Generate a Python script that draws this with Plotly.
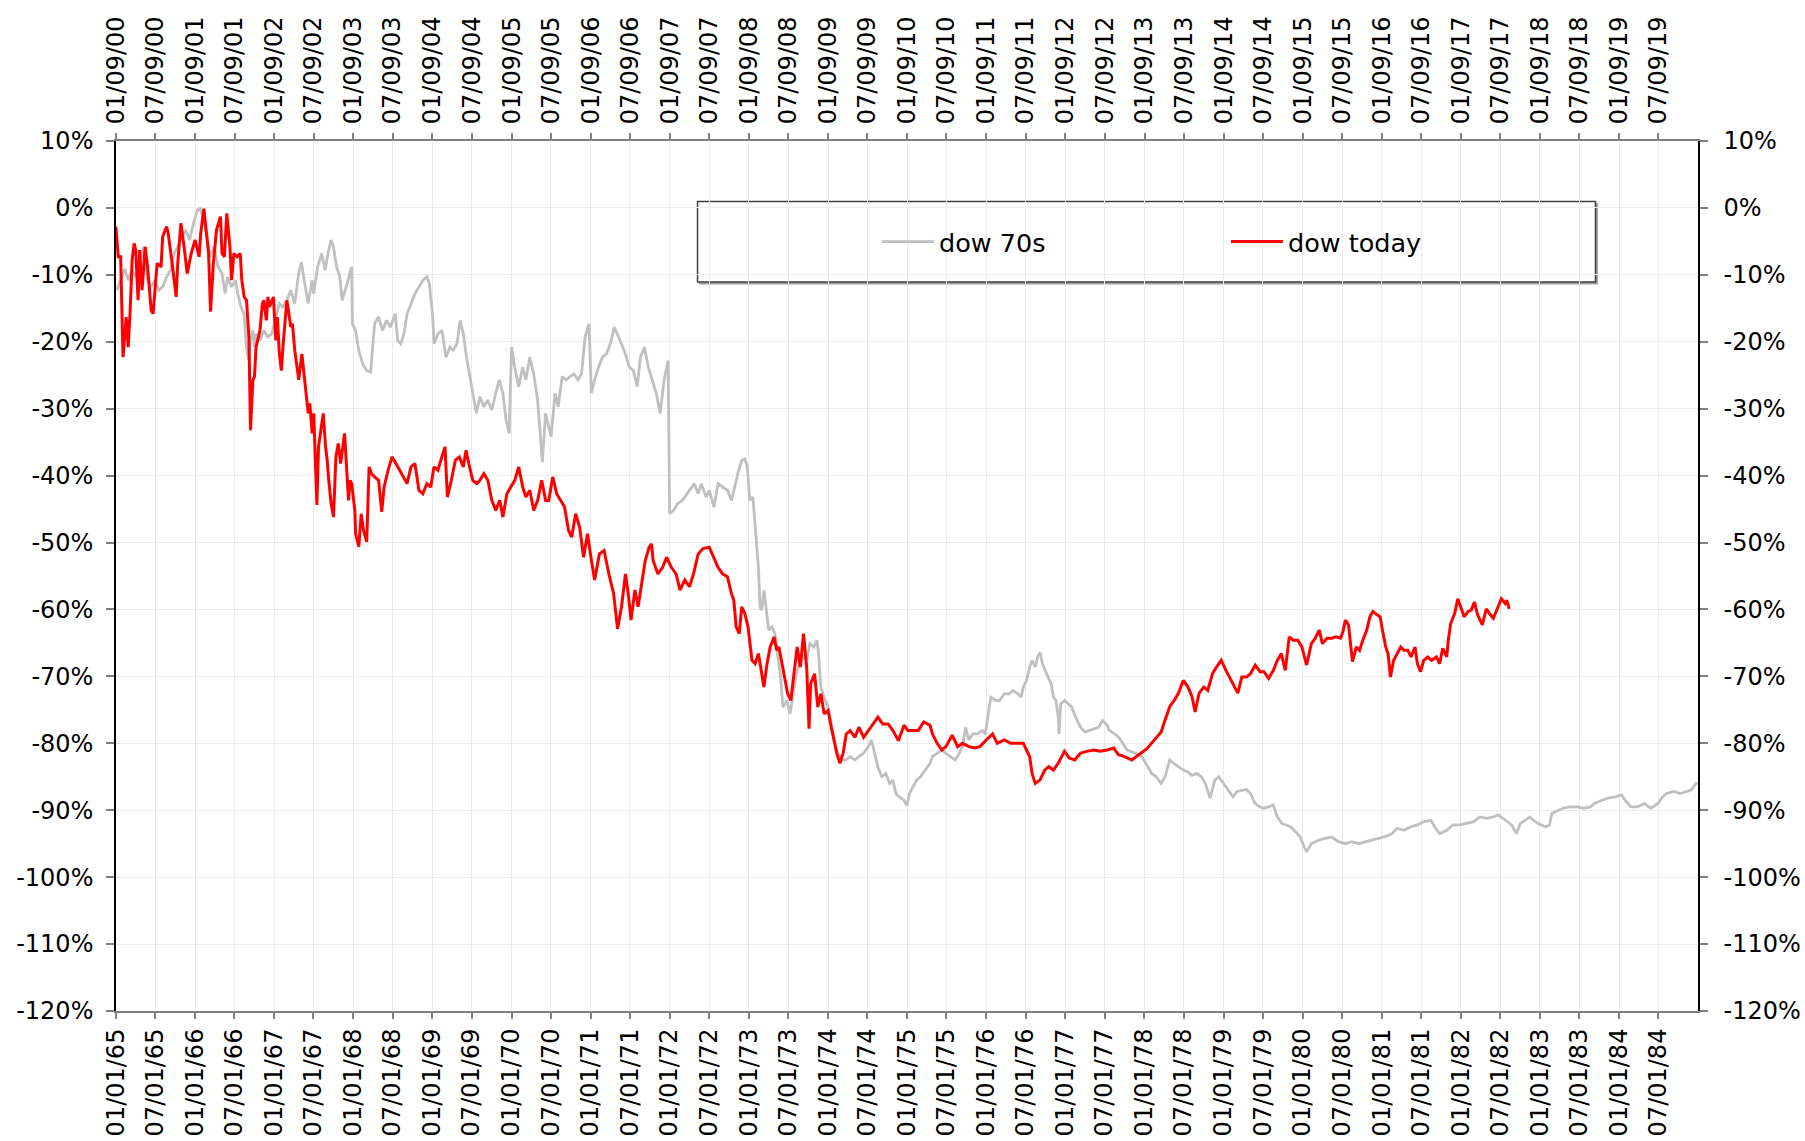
import plotly.graph_objects as go
from datetime import datetime

# ---------------- data ----------------
# "dow 70s": decimal year (bottom axis, 1965-1985) and change from peak, %
gray_year = [
1965.01,1965.06,1965.11,1965.155,1965.20,1965.25,1965.30,1965.35,1965.40,1965.445,1965.49,1965.54,1965.59,1965.64,1965.69,1965.735,
1965.78,1965.83,1965.88,1965.93,1965.98,1966.03,1966.06,1966.10,1966.15,1966.19,1966.24,1966.29,1966.34,1966.38,1966.41,1966.46,
1966.51,1966.54,1966.58,1966.62,1966.65,1966.68,1966.70,1966.73,1966.75,1966.77,1966.82,1966.87,1966.92,1966.97,1967.02,1967.065,
1967.11,1967.16,1967.21,1967.26,1967.31,1967.345,1967.38,1967.43,1967.48,1967.50,1967.55,1967.60,1967.645,1967.68,1967.72,1967.75,
1967.79,1967.83,1967.86,1967.90,1967.935,1967.98,1967.99,1968.03,1968.07,1968.12,1968.17,1968.22,1968.25,1968.27,1968.32,1968.37,
1968.42,1968.47,1968.53,1968.56,1968.60,1968.64,1968.68,1968.73,1968.78,1968.83,1968.88,1968.93,1968.96,1969.00,1969.02,1969.07,
1969.12,1969.17,1969.22,1969.26,1969.31,1969.35,1969.39,1969.43,1969.47,1969.51,1969.555,1969.60,1969.65,1969.70,1969.75,1969.80,
1969.845,1969.89,1969.93,1969.97,1970.00,1970.04,1970.09,1970.14,1970.18,1970.23,1970.28,1970.33,1970.35,1970.39,1970.43,1970.47,
1970.50,1970.55,1970.59,1970.64,1970.69,1970.74,1970.79,1970.84,1970.885,1970.93,1970.98,1971.01,1971.05,1971.10,1971.15,1971.20,
1971.25,1971.30,1971.34,1971.39,1971.44,1971.49,1971.54,1971.59,1971.63,1971.68,1971.73,1971.78,1971.83,1971.88,1971.93,1971.98,
1972.00,1972.05,1972.10,1972.16,1972.22,1972.27,1972.31,1972.36,1972.40,1972.46,1972.50,1972.56,1972.61,1972.67,1972.73,1972.78,
1972.82,1972.87,1972.91,1972.95,1972.98,1973.01,1973.05,1973.09,1973.12,1973.14,1973.16,1973.19,1973.22,1973.25,1973.29,1973.33,
1973.36,1973.40,1973.43,1973.48,1973.52,1973.56,1973.60,1973.64,1973.69,1973.73,1973.77,1973.82,1973.86,1973.88,1973.91,1973.95,
1974.00,1974.05,1974.11,1974.17,1974.22,1974.28,1974.34,1974.39,1974.45,1974.51,1974.55,1974.59,1974.63,1974.68,1974.73,1974.78,
1974.82,1974.86,1974.90,1974.96,1975.00,1975.03,1975.07,1975.12,1975.17,1975.23,1975.29,1975.32,1975.38,1975.44,1975.49,1975.55,
1975.61,1975.66,1975.70,1975.74,1975.78,1975.83,1975.89,1975.95,1975.99,1976.02,1976.06,1976.12,1976.17,1976.23,1976.29,1976.34,
1976.40,1976.44,1976.47,1976.51,1976.55,1976.58,1976.62,1976.65,1976.68,1976.71,1976.74,1976.78,1976.82,1976.85,1976.88,1976.91,
1976.92,1976.94,1976.99,1977.04,1977.08,1977.13,1977.19,1977.25,1977.30,1977.36,1977.42,1977.47,1977.53,1977.55,1977.67,1977.78,
1977.89,1977.97,1978.04,1978.09,1978.15,1978.21,1978.26,1978.32,1978.37,1978.43,1978.49,1978.55,1978.60,1978.66,1978.72,1978.77,
1978.83,1978.89,1978.94,1979.00,1979.06,1979.12,1979.17,1979.23,1979.29,1979.34,1979.40,1979.46,1979.51,1979.57,1979.63,1979.68,
1979.74,1979.79,1979.85,1979.91,1979.97,1980.02,1980.05,1980.11,1980.20,1980.28,1980.37,1980.45,1980.54,1980.62,1980.71,1980.80,
1980.88,1980.96,1981.05,1981.13,1981.19,1981.28,1981.36,1981.45,1981.53,1981.62,1981.67,1981.73,1981.82,1981.90,1981.99,1982.07,
1982.16,1982.24,1982.33,1982.41,1982.47,1982.53,1982.58,1982.64,1982.70,1982.75,1982.81,1982.87,1982.92,1982.98,1983.07,1983.12,
1983.15,1983.21,1983.29,1983.38,1983.47,1983.55,1983.64,1983.69,1983.78,1983.86,1983.95,1984.03,1984.09,1984.15,1984.23,1984.32,
1984.40,1984.49,1984.55,1984.60,1984.69,1984.77,1984.86,1984.91,1984.97,1984.995]
gray_pct = [
-12.3,-10.8,-9.1,-10.8,-9.3,-10.3,-8.3,-5.8,-10.8,-11.8,-10.8,-12.3,-11.8,-10.3,-9.3,-6.8,
-5.8,-4.3,-3.3,-4.8,-2.3,-0.3,-0.1,-1.3,-4.3,-7.3,-5.8,-8.8,-9.8,-12.8,-10.3,-11.8,
-10.8,-12.8,-14.8,-15.8,-20.8,-22.8,-19.8,-18.3,-20.8,-18.8,-19.8,-18.3,-19.3,-18.8,-16.3,-14.3,
-14.8,-13.8,-12.3,-14.3,-9.8,-8.1,-10.8,-14.3,-10.8,-12.8,-8.8,-6.8,-9.3,-6.8,-4.8,-5.8,
-8.8,-10.3,-13.8,-12.3,-10.8,-8.8,-17.3,-18.3,-21.3,-23.3,-24.3,-24.5,-19.3,-17.3,-16.3,-18.3,
-16.8,-17.8,-15.8,-19.8,-20.3,-18.8,-15.8,-14.3,-12.8,-11.8,-10.8,-10.3,-11.3,-15.8,-20.3,-18.8,
-18.3,-22.3,-20.8,-21.3,-20.3,-16.8,-18.8,-22.3,-25.2,-27.7,-30.7,-28.2,-29.7,-28.7,-30.2,-27.7,
-25.7,-27.7,-31.7,-33.7,-20.8,-23.8,-26.7,-23.8,-25.7,-22.3,-24.8,-28.7,-31.7,-38.0,-30.7,-32.7,
-34.2,-27.7,-29.7,-25.2,-25.7,-25.2,-24.8,-25.7,-24.8,-19.3,-17.3,-27.7,-25.7,-23.8,-22.3,-21.8,
-20.3,-17.8,-18.8,-20.3,-21.8,-23.8,-24.3,-26.7,-22.3,-20.8,-23.8,-25.7,-27.7,-30.7,-25.7,-22.8,
-45.7,-45.2,-44.2,-43.7,-42.7,-41.7,-41.2,-42.7,-41.2,-43.2,-42.2,-44.7,-41.2,-41.7,-42.2,-43.7,
-41.7,-39.2,-37.7,-37.5,-38.7,-43.7,-43.2,-48.7,-53.7,-59.6,-60.1,-57.1,-60.6,-63.1,-62.6,-63.6,
-66.6,-70.1,-74.6,-73.6,-75.6,-72.6,-69.6,-68.1,-67.1,-67.6,-65.1,-65.6,-64.6,-66.6,-71.6,-73.1,
-74.6,-77.6,-81.0,-82.5,-82.5,-82.0,-82.5,-82.0,-81.5,-80.5,-79.5,-81.5,-83.5,-85.0,-84.5,-86.0,
-85.5,-87.5,-88.0,-88.5,-89.3,-87.5,-86.5,-85.5,-85.0,-84.0,-83.0,-82.0,-81.5,-81.0,-81.5,-82.0,
-82.5,-81.5,-80.5,-77.6,-79.5,-78.6,-78.6,-78.1,-78.6,-76.1,-73.1,-73.6,-73.6,-72.6,-72.6,-72.1,
-72.6,-73.1,-71.6,-70.6,-68.6,-67.6,-68.6,-67.1,-66.4,-68.1,-69.1,-70.1,-71.1,-73.1,-73.6,-76.1,
-78.6,-74.1,-73.6,-74.1,-74.6,-76.1,-77.6,-78.3,-78.1,-77.8,-77.6,-76.6,-77.3,-78.0,-79.0,-81.0,
-81.5,-82.0,-83.5,-84.5,-85.0,-86.0,-85.0,-82.5,-83.0,-83.5,-84.0,-84.3,-84.8,-84.5,-85.0,-86.0,
-88.2,-85.5,-85.0,-86.0,-87.0,-88.0,-87.2,-87.0,-86.9,-87.5,-89.0,-89.5,-89.7,-89.5,-89.2,-91.0,
-92.0,-92.2,-92.5,-93.2,-94.0,-95.5,-96.2,-95.0,-94.5,-94.2,-94.0,-94.7,-95.0,-94.7,-95.0,-94.7,
-94.4,-94.2,-93.9,-93.5,-92.7,-93.0,-92.5,-92.2,-91.7,-91.5,-92.5,-93.5,-93.0,-92.2,-92.2,-92.0,
-91.7,-91.0,-91.2,-91.0,-90.7,-91.2,-91.7,-92.2,-93.5,-92.0,-91.5,-91.0,-91.5,-92.0,-92.5,-92.2,
-90.5,-90.2,-89.7,-89.5,-89.5,-89.7,-89.5,-89.0,-88.5,-88.2,-88.0,-87.7,-88.7,-89.5,-89.5,-89.0,
-89.7,-89.0,-88.0,-87.5,-87.2,-87.5,-87.2,-87.0,-86.0,-86.0]

# "dow today": decimal year (top axis, 2000-2020) and change from peak, %
red_year = [
2000.02,2000.05,2000.08,2000.10,2000.11,2000.15,2000.175,2000.20,2000.225,2000.25,2000.27,2000.30,2000.32,2000.35,2000.39,2000.42,
2000.465,2000.49,2000.54,2000.59,2000.61,2000.66,2000.68,2000.73,2000.78,2000.80,2000.84,2000.88,2000.92,2000.97,2001.02,2001.07,
2001.09,2001.13,2001.17,2001.19,2001.215,2001.25,2001.29,2001.34,2001.36,2001.39,2001.42,2001.46,2001.48,2001.51,2001.55,2001.59,
2001.61,2001.64,2001.67,2001.70,2001.72,2001.75,2001.77,2001.79,2001.82,2001.84,2001.87,2001.89,2001.92,2001.94,2001.96,2002.01,
2002.04,2002.06,2002.085,2002.11,2002.13,2002.18,2002.23,2002.25,2002.28,2002.33,2002.37,2002.42,2002.45,2002.47,2002.50,2002.52,
2002.54,2002.56,2002.58,2002.62,2002.64,2002.67,2002.69,2002.71,2002.74,2002.77,2002.80,2002.83,2002.86,2002.91,2002.93,2002.96,
2002.98,2003.00,2003.04,2003.05,2003.09,2003.12,2003.15,2003.19,2003.22,2003.25,2003.29,2003.34,2003.38,2003.41,2003.46,2003.51,
2003.56,2003.61,2003.66,2003.70,2003.75,2003.80,2003.85,2003.90,2003.95,2004.00,2004.04,2004.09,2004.14,2004.18,2004.21,2004.26,
2004.31,2004.36,2004.41,2004.445,2004.48,2004.53,2004.58,2004.62,2004.67,2004.72,2004.77,2004.82,2004.87,2004.91,2004.96,2005.01,
2005.06,2005.11,2005.16,2005.20,2005.25,2005.30,2005.35,2005.40,2005.45,2005.49,2005.54,2005.59,2005.64,2005.69,2005.74,2005.78,
2005.83,2005.88,2005.93,2005.98,2006.03,2006.07,2006.13,2006.19,2006.25,2006.31,2006.36,2006.41,2006.46,2006.50,2006.53,2006.58,
2006.62,2006.67,2006.71,2006.76,2006.79,2006.81,2006.87,2006.93,2006.98,2007.04,2007.10,2007.15,2007.21,2007.27,2007.32,2007.38,
2007.44,2007.52,2007.58,2007.63,2007.69,2007.75,2007.80,2007.83,2007.86,2007.90,2007.93,2007.97,2008.01,2008.06,2008.10,2008.14,
2008.17,2008.21,2008.25,2008.29,2008.34,2008.37,2008.40,2008.44,2008.48,2008.51,2008.55,2008.59,2008.63,2008.67,2008.71,2008.75,
2008.78,2008.80,2008.85,2008.89,2008.93,2008.97,2009.02,2009.06,2009.10,2009.13,2009.17,2009.21,2009.25,2009.30,2009.36,2009.41,
2009.47,2009.53,2009.58,2009.65,2009.71,2009.78,2009.84,2009.91,2009.98,2010.03,2010.09,2010.16,2010.23,2010.31,2010.34,2010.40,
2010.46,2010.51,2010.59,2010.66,2010.72,2010.80,2010.87,2010.94,2011.02,2011.10,2011.16,2011.25,2011.33,2011.42,2011.49,2011.53,
2011.57,2011.60,2011.64,2011.70,2011.76,2011.81,2011.87,2011.93,2012.01,2012.07,2012.14,2012.21,2012.29,2012.38,2012.46,2012.55,
2012.63,2012.69,2012.77,2012.86,2012.91,2012.97,2013.05,2013.14,2013.23,2013.28,2013.34,2013.40,2013.45,2013.51,2013.57,2013.62,
2013.66,2013.71,2013.77,2013.82,2013.88,2013.93,2013.99,2014.05,2014.11,2014.16,2014.20,2014.25,2014.31,2014.36,2014.42,2014.48,
2014.53,2014.59,2014.65,2014.70,2014.75,2014.80,2014.85,2014.90,2014.96,2015.01,2015.07,2015.13,2015.18,2015.23,2015.27,2015.33,
2015.39,2015.44,2015.50,2015.53,2015.56,2015.60,2015.63,2015.65,2015.70,2015.74,2015.78,2015.83,2015.87,2015.91,2015.96,2016.00,
2016.03,2016.07,2016.10,2016.13,2016.17,2016.21,2016.26,2016.30,2016.35,2016.39,2016.44,2016.47,2016.51,2016.55,2016.60,2016.65,
2016.71,2016.75,2016.79,2016.84,2016.86,2016.89,2016.94,2016.98,2017.02,2017.06,2017.11,2017.15,2017.19,2017.23,2017.29,2017.34,
2017.38,2017.43,2017.49,2017.53,2017.58,2017.60,2017.63]
red_pct = [
-2.8,-7.3,-7.3,-16.8,-22.3,-16.3,-20.8,-15.3,-7.8,-5.3,-6.3,-13.8,-6.3,-12.3,-5.8,-8.8,
-15.3,-15.8,-8.3,-8.8,-4.3,-2.8,-3.8,-8.3,-13.3,-8.3,-2.3,-5.8,-9.8,-6.8,-4.8,-7.3,
-3.8,-0.1,-4.8,-6.8,-15.5,-8.3,-3.3,-1.3,-6.8,-7.3,-0.8,-5.8,-10.8,-6.8,-7.3,-6.8,
-10.8,-13.3,-13.8,-19.3,-33.2,-25.7,-25.2,-20.8,-19.3,-18.3,-14.3,-13.8,-16.8,-13.3,-14.8,-13.3,
-19.8,-16.3,-21.8,-24.3,-20.8,-13.8,-17.8,-17.3,-21.3,-25.7,-21.8,-27.7,-30.7,-29.2,-33.7,-30.7,
-38.2,-44.4,-35.7,-32.7,-30.7,-35.7,-37.7,-40.7,-44.2,-46.2,-37.2,-35.2,-38.2,-33.7,-37.2,-43.7,
-40.7,-41.2,-45.2,-48.7,-50.6,-45.7,-48.2,-49.9,-38.7,-39.7,-40.2,-40.7,-45.4,-41.7,-39.2,-37.2,
-38.2,-39.2,-40.2,-41.2,-38.7,-38.2,-42.2,-42.7,-41.2,-41.7,-38.7,-39.2,-37.2,-35.7,-43.2,-40.7,
-37.7,-37.2,-38.7,-36.2,-38.2,-40.7,-41.2,-40.7,-39.7,-40.7,-43.7,-45.2,-43.7,-46.2,-42.7,-41.7,
-40.7,-38.7,-41.7,-43.2,-42.2,-45.2,-43.7,-40.7,-43.7,-43.7,-40.2,-42.7,-43.7,-44.7,-48.2,-49.2,
-45.7,-47.7,-52.2,-48.7,-52.7,-55.6,-51.7,-51.2,-54.7,-57.6,-62.9,-59.6,-54.7,-58.1,-61.6,-57.1,
-59.6,-56.1,-52.7,-50.7,-50.2,-52.7,-54.7,-53.7,-52.2,-53.7,-54.7,-57.1,-55.6,-56.6,-54.7,-51.7,
-50.9,-50.7,-52.2,-53.7,-54.7,-55.1,-57.6,-58.6,-62.6,-63.6,-59.6,-60.6,-62.6,-67.6,-68.1,-66.6,
-68.6,-71.6,-68.1,-65.6,-64.1,-66.1,-65.6,-68.1,-70.6,-72.6,-73.6,-69.6,-65.6,-68.6,-63.6,-68.6,
-77.8,-71.1,-69.6,-74.6,-72.6,-75.6,-75.1,-77.6,-79.6,-81.5,-83.0,-81.5,-78.6,-78.1,-79.1,-77.6,
-79.1,-78.1,-77.1,-76.1,-77.1,-77.1,-78.1,-79.6,-77.3,-78.1,-78.1,-78.1,-76.8,-77.3,-78.6,-80.0,
-81.0,-80.5,-78.8,-80.5,-80.0,-80.5,-80.7,-80.5,-79.5,-78.6,-80.0,-79.5,-80.0,-80.0,-80.0,-81.0,
-82.0,-84.5,-86.0,-85.5,-84.0,-83.5,-84.0,-83.0,-81.2,-82.2,-82.5,-81.5,-81.2,-81.0,-81.2,-81.0,
-80.7,-81.7,-82.0,-82.5,-82.0,-81.5,-80.8,-79.5,-78.3,-76.5,-74.5,-73.5,-72.5,-70.6,-71.6,-73.0,
-75.3,-72.5,-71.6,-72.1,-69.6,-68.6,-67.6,-69.1,-70.6,-71.6,-72.5,-70.1,-70.1,-69.6,-68.3,-69.3,
-69.3,-70.3,-69.1,-67.6,-66.6,-69.1,-64.1,-64.6,-64.6,-65.6,-68.3,-65.1,-64.3,-63.1,-65.1,-64.3,
-64.3,-64.1,-64.3,-63.3,-61.6,-62.3,-65.6,-67.8,-65.6,-66.1,-64.6,-63.1,-61.1,-60.3,-60.8,-61.1,
-63.1,-65.6,-66.6,-70.1,-67.6,-66.6,-65.6,-66.1,-66.1,-67.1,-65.6,-68.1,-69.3,-67.6,-67.1,-67.6,
-67.1,-68.1,-65.8,-67.1,-64.6,-62.1,-60.6,-58.4,-59.6,-61.1,-60.3,-60.1,-58.9,-60.8,-62.3,-59.9,
-60.6,-61.3,-59.6,-58.4,-59.1,-58.6,-59.9]

y_ticks = [10, 0, -10, -20, -30, -40, -50, -60, -70, -80, -90, -100, -110, -120]
y_ticktext = ["10%", "0%", "-10%", "-20%", "-30%", "-40%", "-50%", "-60%",
              "-70%", "-80%", "-90%", "-100%", "-110%", "-120%"]


def year_to_date(y):
    yi = int(y)
    a = datetime(yi, 1, 1)
    b = datetime(yi + 1, 1, 1)
    return a + (b - a) * (y - yi)


gray_x = [year_to_date(v) for v in gray_year]
red_x = [year_to_date(v) for v in red_year]

FONT = "DejaVu Sans, Verdana, sans-serif"

fig = go.Figure()
fig.add_trace(go.Scatter(x=gray_x, y=gray_pct, name="dow 70s", mode="lines",
                         line=dict(color="#c0c0c0", width=2.8),
                         xaxis="x", yaxis="y"))
fig.add_trace(go.Scatter(x=red_x, y=red_pct, name="dow today", mode="lines",
                         line=dict(color="#ff0000", width=3),
                         xaxis="x2", yaxis="y2"))

common_x = dict(type="date", dtick="M6", tickformat="%m/%d/%y", tickangle=-90,
                showline=True, linecolor="#808080", linewidth=2,
                ticks="outside", ticklen=6, tickwidth=1.5, tickcolor="#808080",
                zeroline=False, automargin=False,
                tickfont=dict(family=FONT, size=24, color="black"))
common_y = dict(range=[-120, 10], tickvals=y_ticks, ticktext=y_ticktext,
                showline=True, linecolor="black", linewidth=1.5,
                ticks="outside", ticklen=8, tickwidth=1.5, tickcolor="#808080",
                zeroline=False, automargin=False,
                tickfont=dict(family=FONT, size=24, color="black"))

fig.update_layout(
    width=1805, height=1141,
    margin=dict(l=116, r=107, t=141, b=130, pad=0, autoexpand=False),
    plot_bgcolor="white", paper_bgcolor="white",
    font=dict(family=FONT, size=24, color="black"),
    xaxis=dict(**common_x, range=["1964-12-31 20:00", "1984-12-30 12:00"],
               tick0="1965-01-01", showgrid=True, gridcolor="#ececec", gridwidth=1,
               anchor="y", side="bottom", ticklabelstandoff=0),
    xaxis2=dict(**common_x, range=["2000-01-08 20:00", "2020-01-07 12:00"],
                tick0="2000-01-09", showgrid=False, overlaying="x",
                anchor="y2", side="top", ticklabelstandoff=4),
    yaxis=dict(**common_y, showgrid=True, gridcolor="#ececec", gridwidth=1,
               anchor="x", side="left", ticklabelstandoff=8),
    yaxis2=dict(**common_y, showgrid=False, overlaying="y",
                anchor="x2", side="right", ticklabelstandoff=11),
    legend=dict(orientation="h", x=0.4810, xanchor="left", y=0.8839, yanchor="middle",
                bgcolor="rgba(0,0,0,0)", borderwidth=0,
                font=dict(family=FONT, size=25.5, color="black"),
                itemwidth=52, entrywidth=282, entrywidthmode="pixels"),
    showlegend=True,
    shapes=[
        dict(type="rect", xref="paper", yref="paper",
             x0=0.3689, x1=0.9365, y0=0.8356, y1=0.9283,
             line=dict(color="#a0a0a0", width=1), fillcolor="#a0a0a0", layer="between"),
        dict(type="rect", xref="paper", yref="paper",
             x0=0.3676, x1=0.9352, y0=0.8379, y1=0.9306,
             line=dict(color="#404040", width=1.5), fillcolor="white", layer="between"),
    ],
)

fig.write_html("out.html", config={"displayModeBar": False},
               post_script="document.body.style.margin='0';document.body.style.overflow='hidden';")
